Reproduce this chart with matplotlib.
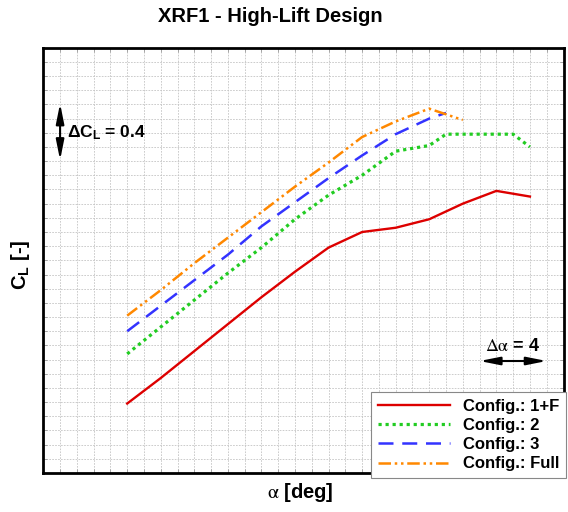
import matplotlib
matplotlib.use("Agg")
import matplotlib.pyplot as plt
import numpy as np

plt.rcParams['font.family'] = ['Liberation Sans', 'DejaVu Sans']
plt.rcParams['mathtext.fontset'] = 'stix'
plt.rcParams['mathtext.default'] = 'regular'

# Lift curves CL(alpha) for the four high-lift configurations
alpha_1f = [0, 2, 4, 6, 8, 10, 12, 14, 16, 18, 20, 22, 24]
cl_1f = [0.49, 0.67, 0.86, 1.05, 1.24, 1.42, 1.59, 1.70, 1.73, 1.79, 1.90, 1.99, 1.95]

alpha_2 = [0, 2, 4, 6, 8, 10, 12, 14, 16, 18, 19, 23, 24]
cl_2 = [0.84, 1.03, 1.22, 1.41, 1.59, 1.79, 1.96, 2.10, 2.27, 2.31, 2.39, 2.39, 2.30]

alpha_3 = [0, 2, 4, 6, 8, 10, 12, 14, 16, 18, 19]
cl_3 = [1.00, 1.18, 1.36, 1.54, 1.74, 1.91, 2.08, 2.24, 2.39, 2.50, 2.54]

alpha_full = [0, 2, 4, 6, 8, 10, 12, 14, 16, 18, 20]
cl_full = [1.11, 1.29, 1.48, 1.66, 1.84, 2.02, 2.19, 2.37, 2.48, 2.57, 2.49]

labels = ['Config.: 1+F', 'Config.: 2', 'Config.: 3', 'Config.: Full']

fig = plt.figure(figsize=(5.68, 5.12), dpi=100)
ax = fig.add_axes([43.3 / 568, 1 - 473 / 512, 520.2 / 568, 425.3 / 512])

xlim = (-5, 26)
ylim = (0.0, 3.0)
ax.set_xlim(*xlim)
ax.set_ylim(*ylim)
ax.set_xticks(np.arange(xlim[0], xlim[1] + 1, 1))
ax.set_yticks(np.arange(0, 3.0001, 0.1))
ax.tick_params(direction='in', length=3, width=0.6, color='#999999',
               labelbottom=False, labelleft=False,
               top=True, right=True)
ax.grid(True, color='#c4c4c4', linestyle=(0, (2, 1.5)), linewidth=0.6)
ax.set_axisbelow(True)
for sp in ax.spines.values():
    sp.set_linewidth(2.0)
    sp.set_color('black')

l1, = ax.plot(alpha_1f, cl_1f, color='#dd0000', lw=1.7, ls='-')
l2, = ax.plot(alpha_2, cl_2, color='#22cc22', lw=2.3, ls=(0, (1, 1.2)))
l3, = ax.plot(alpha_3, cl_3, color='#3333ff', lw=1.8, ls=(0, (6, 3.5)))
l4, = ax.plot(alpha_full, cl_full, color='#ff8800', lw=1.8,
              ls=(0, (5, 1.5, 1, 1.5, 1, 1.5)))

# Scale indicators
arrow_style = dict(arrowstyle='<|-|>,head_length=1.0,head_width=0.2',
                   color='black', lw=1.5, mutation_scale=12,
                   shrinkA=0, shrinkB=0)
ax.annotate('', xy=(-4.0, 2.207), xytext=(-4.0, 2.607), arrowprops=arrow_style)
ax.text(-3.6, 2.40, r'$\Delta$C$_L$ = 0.4', fontsize=12.5, fontweight='bold',
        ha='left', va='center')

ax.annotate('', xy=(21.0, 0.79), xytext=(25.0, 0.79), arrowprops=arrow_style)
ax.text(22.95, 0.83, r'$\mathrm{\Delta\alpha}$ = 4', fontsize=13,
        fontweight='bold', ha='center', va='bottom')

fig.text(270 / 568, 1 - 17 / 512, 'XRF1 - High-Lift Design', fontsize=14.5,
         fontweight='bold', ha='center', va='center')
fig.text(20 / 568, 1 - 265 / 512, r'C$_L$ [-]', fontsize=14.5, fontweight='bold',
         rotation=90, ha='center', va='center')
fig.text(300 / 568, 1 - 492 / 512, r'$\mathrm{\alpha}$ [deg]', fontsize=14.5,
         fontweight='bold', ha='center', va='center')

leg = fig.legend([l1, l2, l3, l4], labels, loc='lower right',
                 bbox_to_anchor=(566 / 568, 1 - 478 / 512),
                 prop={'weight': 'bold', 'size': 12},
                 handlelength=4.3, handletextpad=0.8, labelspacing=0.25,
                 borderpad=0.4, fancybox=False, framealpha=1,
                 edgecolor='#888888', borderaxespad=0)
leg.get_frame().set_linewidth(0.8)

fig.savefig('out.png', dpi=100)
